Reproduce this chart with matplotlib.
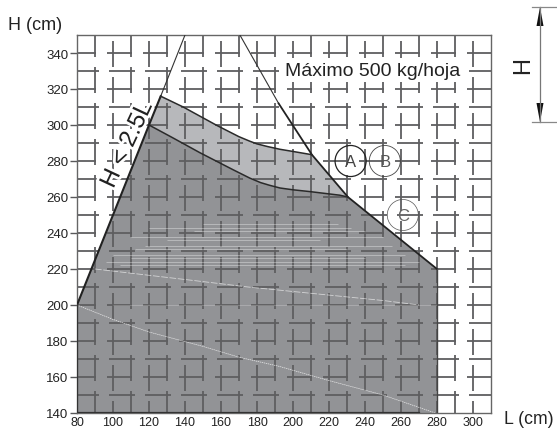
import matplotlib
matplotlib.use('Agg')
import matplotlib.pyplot as plt
import matplotlib.patheffects as pe
import numpy as np

plt.rcParams['font.family'] = ['Liberation Sans', 'DejaVu Sans']

# contornos
limit_L = [80, 120, 126.5]
limit_H = [200, 300, 316]
thin_left_L = [126.5, 140]
thin_left_H = [316, 350]
thin_right_L = [170.5, 192]
thin_right_H = [350, 312]
right_L = [192, 210.5, 230.5, 280]
right_H = [312, 283.5, 260, 220]
curve_a_L = [126.5, 139, 158, 170, 176, 180, 186, 192.8, 200, 210.5]
curve_a_H = [316, 310, 299.6, 293.5, 291, 289.5, 288, 286.5, 285.3, 283.5]
curve_b_L = [120, 133, 148.3, 167, 176, 182, 187, 192.8, 200, 209.4, 226, 230.5]
curve_b_H = [300, 293, 284.6, 275, 270.5, 268, 266.5, 265, 264, 263, 261, 260]

# rayas blancas del escaneo
streak1_L = [80, 100, 120, 150, 170, 192, 220, 250, 279]
streak1_H = [200, 192, 185, 177, 171, 166, 158, 150, 140]
streak2_L = [90, 120, 150, 175, 200, 225, 250, 270]
streak2_H = [220, 216.5, 213, 210, 207.5, 205, 202.5, 200]
band_H = [222, 224, 226, 228, 231, 233, 236, 238, 241, 243, 245]
band_start = [104, 96, 110, 100, 112, 118, 130, 110, 145, 120, 150]
band_end = [262, 270, 240, 262, 230, 255, 215, 250, 240, 232, 225]

y_ticks = [140, 160, 180, 200, 220, 240, 260, 280, 300, 320, 340]
x_ticks = [80, 100, 120, 140, 160, 180, 200, 220, 240, 260, 280, 300]
grid_rows = np.arange(150, 350, 10)
grid_cols = np.arange(90, 310, 10)
row_phase = [98, 96.5]
col_phase = [138, 132.5]
dash_len = 14

fig = plt.figure(figsize=(5.57, 4.31), dpi=100)
ax = fig.add_axes([77 / 557, 17 / 431, 414 / 557, 378 / 431])
ax.set_xlim(80, 310)
ax.set_ylim(140, 350)

poly_dark_L = [80] + limit_L[:2] + curve_b_L[1:] + right_L[3:] + [280, 80]
poly_dark_H = [140] + limit_H[:2] + curve_b_H[1:] + right_H[3:] + [140, 140]
poly_light_L = limit_L[1:] + curve_a_L[1:] + right_L[2:3] + curve_b_L[::-1]
poly_light_H = limit_H[1:] + curve_a_H[1:] + right_H[2:3] + curve_b_H[::-1]
ax.fill(poly_dark_L, poly_dark_H, color='#929396', lw=0, zorder=1)
ax.fill(poly_light_L, poly_light_H, color='#b7b8bb', lw=0, zorder=1)

# rejilla rota
for i, y in enumerate(grid_rows):
    p = row_phase[i % 2]
    starts = np.arange(p - 40, 320, 20)
    ax.hlines([y] * len(starts), starts, starts + dash_len, color='#5e5e60', lw=1.3, zorder=2)
for i, x in enumerate(grid_cols):
    p = col_phase[i % 2]
    starts = np.arange(p, 360, 20)
    ax.vlines([x] * len(starts), starts, starts + dash_len, color='#5e5e60', lw=1.3, zorder=2)

ax.plot(streak1_L, streak1_H, color='white', lw=0.5, ls=(0, (2, 1)), alpha=0.8, zorder=3)
ax.plot(streak2_L, streak2_H, color='white', lw=0.6, ls=(0, (8, 2)), alpha=0.6, zorder=3)
ax.hlines(band_H, band_start, band_end, color='white', lw=0.6, alpha=0.4, zorder=3)
ax.hlines(200, 100, 280, color='white', lw=0.5, alpha=0.3, zorder=3)

# el texto va debajo de los contornos para no comerse la linea limite
ax.text(108, 289, 'H < 2.5L', fontsize=17.5, color='#222222', rotation=65, ha='center', va='center',
        rotation_mode='anchor', zorder=3.5, path_effects=[pe.withStroke(linewidth=4, foreground='white')])

ax.plot(limit_L, limit_H, color='#222222', lw=1.5, zorder=4)
ax.plot(thin_left_L, thin_left_H, color='#333333', lw=0.8, zorder=4)
ax.plot(thin_right_L, thin_right_H, color='#333333', lw=0.8, zorder=4)
ax.plot(right_L, right_H, color='#222222', lw=1.3, zorder=4)
ax.plot(curve_a_L, curve_a_H, color='#2a2a2a', lw=1.1, zorder=4)
ax.plot(curve_b_L, curve_b_H, color='#2a2a2a', lw=1.1, zorder=4)
ax.plot([80, 80, 270], [200, 140, 140], color='#333333', lw=1.6, zorder=4)
ax.plot([280, 280], [220, 140], color='#444444', lw=1.0, zorder=4)

# circulos
ax.scatter([232], [280], s=500, facecolors='none', edgecolors='#222222', lw=0.9, zorder=5)
ax.scatter([251], [280], s=500, facecolors='none', edgecolors='#444444', lw=0.6, zorder=5)
ax.scatter([261], [250], s=500, facecolors='none', edgecolors='#555555', lw=0.5, zorder=5)
ax.text(232, 279.5, 'A', fontsize=12, color='#444444', ha='center', va='center', zorder=6)
ax.text(251, 279.5, 'B', fontsize=12, color='#555555', ha='center', va='center', zorder=6)
ax.text(261, 249.5, 'C', fontsize=12, color='#666666', ha='center', va='center', zorder=6)

ax.text(244.5, 330.5, 'Máximo 500 kg/hoja', fontsize=14, color='#222222', ha='center', va='center',
        zorder=6, bbox=dict(fc='white', ec='none', pad=2.5))

for s in ax.spines.values():
    s.set_color('#666666')
    s.set_linewidth(1.0)
    s.set_zorder(3)
ax.set_xticks(x_ticks)
ax.set_yticks(y_ticks)
ax.tick_params(axis='x', length=0, pad=2.5, labelsize=9, labelcolor='#222222')
ax.tick_params(axis='y', length=5, width=1.0, color='#58585a', pad=1, labelsize=9.5, labelcolor='#222222')

fig.text(8 / 557, 1 - 26 / 431, 'H (cm)', fontsize=13, color='#222222', va='center')
fig.text(504 / 557, 1 - 420 / 431, 'L (cm)', fontsize=12.7, color='#222222', va='center')

# esquema de la derecha
over = fig.add_axes([0, 0, 1, 1])
over.set_xlim(0, 557)
over.set_ylim(431, 0)
over.axis('off')
over.patch.set_alpha(0)
over.plot([540, 540], [8, 123], color='#777777', lw=0.9)
over.plot([532, 557], [8, 8], color='#888888', lw=0.9)
over.plot([532, 557], [123, 123], color='#888888', lw=0.9)
over.fill([536.5, 543.5, 540], [27, 27, 8], color='#111111', lw=0)
over.fill([536.5, 543.5, 540], [104, 104, 123], color='#111111', lw=0)
over.text(523, 66, 'H', fontsize=17, color='#222222', rotation=90, ha='center', va='center')

fig.savefig('out.png', dpi=100)
